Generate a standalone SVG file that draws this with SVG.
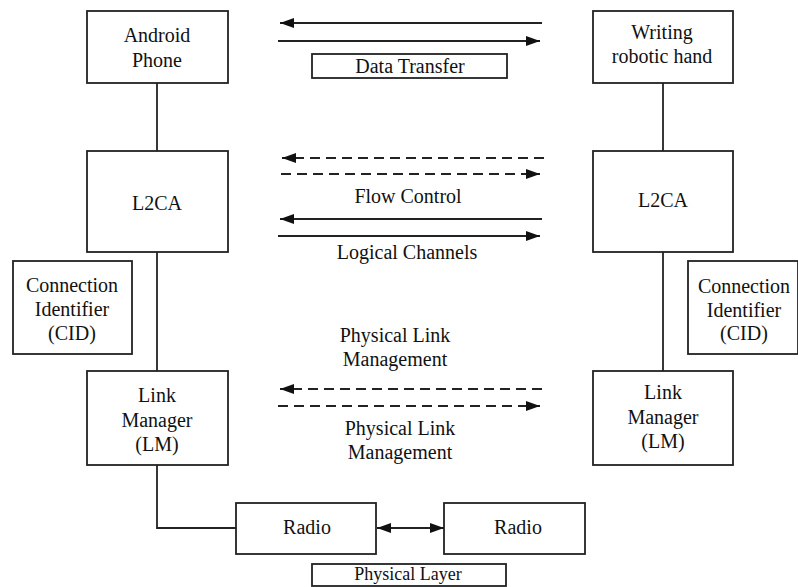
<svg xmlns="http://www.w3.org/2000/svg" width="798" height="587" viewBox="0 0 798 587">
<defs>
<marker id="ah" viewBox="0 0 14 10" refX="14" refY="5" markerWidth="14" markerHeight="10" markerUnits="userSpaceOnUse" orient="auto-start-reverse">
<path d="M0,0 L14,5 L0,10 Z" fill="#111"/>
</marker>
<style>
.box{fill:#fff;stroke:#222;stroke-width:1.8}
.ln{fill:none;stroke:#222;stroke-width:1.8}
.dash{stroke-dasharray:10 6}
.sm{font-size:18px}
</style>
</defs>
<rect width="798" height="587" fill="#fff"/>
<g id="connectors">
<line class="ln" x1="157" y1="83" x2="157" y2="151"/>
<line class="ln" x1="157" y1="252" x2="157" y2="371"/>
<polyline class="ln" points="157,465 157,528 236,528"/>
<line class="ln" x1="663" y1="83" x2="663" y2="151"/>
<line class="ln" x1="663" y1="252" x2="663" y2="371"/>
<line class="ln" x1="542" y1="23" x2="280" y2="23" marker-end="url(#ah)"/>
<line class="ln" x1="278" y1="41" x2="540" y2="41" marker-end="url(#ah)"/>
<line class="ln dash" x1="544" y1="158" x2="282" y2="158" marker-end="url(#ah)"/>
<line class="ln dash" x1="281" y1="174" x2="540" y2="174" marker-end="url(#ah)"/>
<line class="ln" x1="542" y1="219" x2="280" y2="219" marker-end="url(#ah)"/>
<line class="ln" x1="278" y1="236" x2="540" y2="236" marker-end="url(#ah)"/>
<line class="ln dash" x1="542" y1="389" x2="280" y2="389" marker-end="url(#ah)"/>
<line class="ln dash" x1="278" y1="406" x2="540" y2="406" marker-end="url(#ah)"/>
<line class="ln" x1="377" y1="528" x2="444" y2="528" marker-start="url(#ah)" marker-end="url(#ah)"/>
</g>
<g font-family="Liberation Serif, Times New Roman, Tinos, Noto Serif, DejaVu Serif, serif" font-size="20" fill="#111" text-anchor="middle">
<g id="android-phone">
<rect class="box" x="87" y="11" width="141" height="72"/>
<text x="157" y="42">Android</text>
<text x="157" y="67">Phone</text>
</g>
<g id="writing-robotic-hand">
<rect class="box" x="593" y="11" width="140" height="72"/>
<text x="662" y="39">Writing</text>
<text x="662" y="63">robotic hand</text>
</g>
<g id="data-transfer">
<rect class="box" x="312" y="54" width="195" height="24"/>
<text x="410" y="73">Data Transfer</text>
</g>
<g id="l2ca-left">
<rect class="box" x="87" y="151" width="141" height="101"/>
<text x="157" y="210">L2CA</text>
</g>
<g id="l2ca-right">
<rect class="box" x="593" y="151" width="140" height="101"/>
<text x="663" y="207">L2CA</text>
</g>
<g id="flow-control">
<text x="408" y="203">Flow Control</text>
</g>
<g id="logical-channels">
<text x="407" y="259">Logical Channels</text>
</g>
<g id="cid-left">
<rect class="box" x="13" y="261" width="119" height="93"/>
<text x="72" y="292">Connection</text>
<text x="72" y="316">Identifier</text>
<text x="72" y="340">(CID)</text>
</g>
<g id="cid-right">
<rect class="box" x="688" y="261" width="110" height="93"/>
<text x="744" y="293">Connection</text>
<text x="744" y="317">Identifier</text>
<text x="744" y="340">(CID)</text>
</g>
<g id="plm-top">
<text x="395" y="342">Physical Link</text>
<text x="395" y="366">Management</text>
</g>
<g id="plm-bottom">
<text x="400" y="435">Physical Link</text>
<text x="400" y="459">Management</text>
</g>
<g id="lm-left">
<rect class="box" x="87" y="371" width="141" height="94"/>
<text x="157" y="402">Link</text>
<text x="157" y="427">Manager</text>
<text x="157" y="451">(LM)</text>
</g>
<g id="lm-right">
<rect class="box" x="593" y="371" width="140" height="94"/>
<text x="663" y="399">Link</text>
<text x="663" y="424">Manager</text>
<text x="663" y="448">(LM)</text>
</g>
<g id="radio-left">
<rect class="box" x="236" y="503" width="140" height="51"/>
<text x="307" y="534">Radio</text>
</g>
<g id="radio-right">
<rect class="box" x="444" y="503" width="141" height="51"/>
<text x="518" y="534">Radio</text>
</g>
<g id="physical-layer">
<rect class="box" x="312" y="564" width="194" height="22"/>
<text class="sm" x="408" y="580">Physical Layer</text>
</g>
</g>
</svg>
